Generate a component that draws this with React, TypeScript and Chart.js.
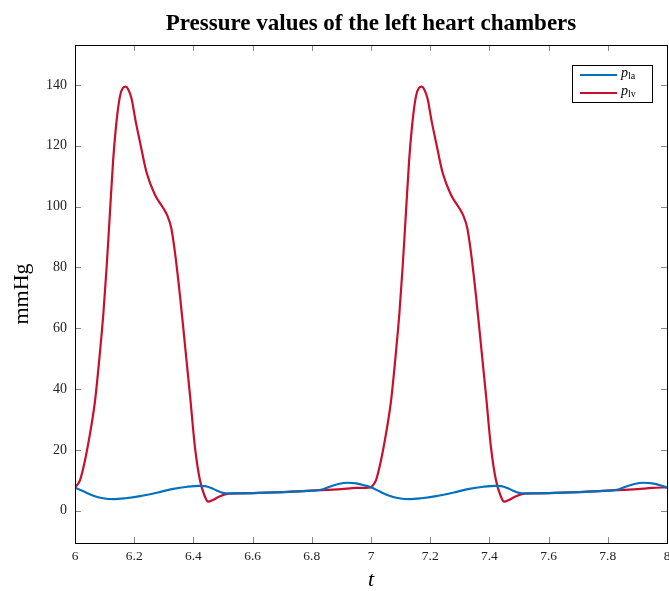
import React, { useEffect, useRef } from "react";
import { Chart, registerables } from "chart.js";
Chart.register(...registerables);

const titleText = "Pressure values of the left heart chambers";
const xTitle = "t";
const yTitle = "mmHg";
const xTicks = [6, 6.2, 6.4, 6.6, 6.8, 7, 7.2, 7.4, 7.6, 7.8, 8];
const yTicks = [0, 20, 40, 60, 80, 100, 120, 140];

// p_la (left atrium)
const plaT = [
  6.0, 6.03, 6.06, 6.09, 6.13, 6.17, 6.22, 6.28, 6.332, 6.38, 6.42, 6.44, 6.46, 6.48, 6.5, 6.52,
  6.6, 6.7, 6.8, 6.83, 6.86, 6.89, 6.92, 6.95, 6.98,
  7.0, 7.03, 7.06, 7.09, 7.13, 7.17, 7.22, 7.28, 7.332, 7.38, 7.42, 7.44, 7.46, 7.48, 7.5, 7.52,
  7.6, 7.7, 7.8, 7.83, 7.86, 7.89, 7.92, 7.95, 7.98, 8.0,
];
const plaV = [
  7.6, 6.3, 5.0, 4.2, 3.8, 4.1, 4.8, 6.0, 7.2, 7.9, 8.2, 8.1, 7.5, 6.6, 5.9, 5.7,
  5.8, 6.1, 6.6, 6.9, 7.9, 8.8, 9.2, 9.0, 8.3,
  7.7, 6.3, 5.0, 4.2, 3.8, 4.1, 4.8, 6.0, 7.2, 7.9, 8.2, 8.1, 7.5, 6.6, 5.9, 5.7,
  5.8, 6.1, 6.6, 6.9, 7.9, 8.8, 9.2, 9.0, 8.3, 7.6,
];

// p_lv (left ventricle)
const plvT = [
  6.0, 6.005, 6.017, 6.034, 6.051, 6.068, 6.084, 6.096, 6.107, 6.118, 6.129, 6.141, 6.152, 6.162,
  6.171, 6.18, 6.191, 6.205, 6.22, 6.242, 6.27, 6.298, 6.312, 6.325, 6.338, 6.355, 6.372, 6.389,
  6.405, 6.422, 6.439, 6.45, 6.465, 6.49, 6.52, 6.6, 6.7, 6.8, 6.9, 6.95,
  7.0, 7.005, 7.017, 7.034, 7.051, 7.068, 7.084, 7.096, 7.107, 7.118, 7.129, 7.141, 7.152, 7.162,
  7.171, 7.18, 7.191, 7.205, 7.22, 7.242, 7.27, 7.298, 7.312, 7.325, 7.338, 7.355, 7.372, 7.389,
  7.405, 7.422, 7.439, 7.45, 7.465, 7.49, 7.52, 7.6, 7.7, 7.8, 7.9, 7.95, 8.0,
];
const plvV = [
  7.6, 8.2, 10.1, 16.7, 25.5, 36.4, 51.8, 65, 80.3, 97.9, 115.4, 128.6, 136.3, 139.0,
  139.4, 138.5, 135.5, 128, 121, 111.1, 103.9, 99.5, 97, 93, 84.7, 70.4, 54, 37.5,
  21.1, 10.1, 4.6, 3.0, 3.5, 4.8, 5.6, 5.8, 6.1, 6.6, 7.1, 7.5,
  7.7, 8.2, 10.1, 16.7, 25.5, 36.4, 51.8, 65, 80.3, 97.9, 115.4, 128.6, 136.3, 139.0,
  139.4, 138.5, 135.5, 128, 121, 111.1, 103.9, 99.5, 97, 93, 84.7, 70.4, 54, 37.5,
  21.1, 10.1, 4.6, 3.0, 3.5, 4.8, 5.6, 5.8, 6.1, 6.6, 7.1, 7.5, 7.7,
];

const BLUE = "#0072BD";
const RED = "#C8102E";
const SERIF = "'Liberation Serif', 'DejaVu Serif', serif";

const framePlugin = {
  id: "framePlugin",
  afterDatasetsDraw(chart: any) {
    const { ctx, chartArea: a, scales } = chart;
    ctx.save();
    // inward ticks
    ctx.strokeStyle = "#8a8a8a";
    ctx.lineWidth = 1;
    const tl = 6;
    for (const v of xTicks) {
      const x = Math.round(scales.x.getPixelForValue(v)) + 0.5;
      ctx.beginPath();
      ctx.moveTo(x, a.bottom);
      ctx.lineTo(x, a.bottom - tl);
      ctx.moveTo(x, a.top);
      ctx.lineTo(x, a.top + tl);
      ctx.stroke();
    }
    for (const v of yTicks) {
      const y = Math.round(scales.y.getPixelForValue(v)) + 0.5;
      ctx.beginPath();
      ctx.moveTo(a.left, y);
      ctx.lineTo(a.left + tl, y);
      ctx.moveTo(a.right, y);
      ctx.lineTo(a.right - tl, y);
      ctx.stroke();
    }
    // frame
    ctx.strokeStyle = "#000";
    ctx.lineWidth = 1;
    ctx.strokeRect(Math.round(a.left) + 0.5, Math.round(a.top) + 0.5, Math.round(a.right - a.left), Math.round(a.bottom - a.top));

    // title
    ctx.fillStyle = "#000";
    ctx.font = `bold 23px ${SERIF}`;
    ctx.textAlign = "center";
    ctx.textBaseline = "alphabetic";
    ctx.fillText(titleText, (a.left + a.right) / 2, 30);

    // legend
    const bx = 572, by = 65, bw = 80, bh = 37;
    ctx.fillStyle = "#fff";
    ctx.fillRect(bx, by, bw, bh);
    ctx.strokeStyle = "#000";
    ctx.strokeRect(bx + 0.5, by + 0.5, bw, bh);
    const items = [
      { c: BLUE, sub: "la", y: 75 },
      { c: RED, sub: "lv", y: 93 },
    ];
    for (const it of items) {
      ctx.strokeStyle = it.c;
      ctx.lineWidth = 2;
      ctx.beginPath();
      ctx.moveTo(580, it.y);
      ctx.lineTo(617, it.y);
      ctx.stroke();
      ctx.fillStyle = "#000";
      ctx.textAlign = "left";
      ctx.textBaseline = "alphabetic";
      ctx.font = `italic 14px ${SERIF}`;
      ctx.fillText("p", 621, it.y + 2);
      ctx.font = `10px ${SERIF}`;
      ctx.fillText(it.sub, 628, it.y + 4);
    }
    ctx.restore();
  },
};

export default function App() {
  const ref = useRef<HTMLCanvasElement>(null);
  useEffect(() => {
    const pla = plaT.map((t, i) => ({ x: t, y: plaV[i] }));
    const plv = plvT.map((t, i) => ({ x: t, y: plvV[i] }));
    const chart = new Chart(ref.current!, {
      type: "line",
      data: {
        datasets: [
          { label: "p_la", data: pla, borderColor: BLUE, borderWidth: 2.2, pointRadius: 0, cubicInterpolationMode: "monotone", fill: false },
          { label: "p_lv", data: plv, borderColor: RED, borderWidth: 2.2, pointRadius: 0, cubicInterpolationMode: "monotone", fill: false },
        ],
      },
      options: {
        animation: false,
        responsive: false,
        maintainAspectRatio: false,
        layout: { padding: { top: 45, right: 2, left: 0, bottom: 0 } },
        plugins: { legend: { display: false }, title: { display: false }, tooltip: { enabled: false } },
        scales: {
          x: {
            type: "linear",
            min: 6,
            max: 8,
            grid: { display: false, drawTicks: false },
            border: { display: false },
            ticks: {
              autoSkip: false,
              maxRotation: 0,
              padding: 5,
              color: "#222",
              font: { family: SERIF, size: 13.5 },
              callback: (v: any) => String(Math.round(Number(v) * 10) / 10),
            },
            afterBuildTicks: (s: any) => {
              s.ticks = xTicks.map((v) => ({ value: v }));
            },
            afterFit: (s: any) => {
              s.height = 48;
              s.paddingLeft = 0;
              s.paddingRight = 0;
            },
            title: {
              display: true,
              text: xTitle,
              color: "#000",
              font: { family: SERIF, size: 22, style: "italic", lineHeight: 1 },
              padding: { top: 0, bottom: 0 },
            },
          },
          y: {
            type: "linear",
            min: -10.6,
            max: 153.1,
            grid: { display: false, drawTicks: false },
            border: { display: false },
            ticks: {
              padding: 8,
              color: "#222",
              font: { family: SERIF, size: 14 },
            },
            afterBuildTicks: (s: any) => {
              s.ticks = yTicks.map((v) => ({ value: v }));
            },
            afterFit: (s: any) => {
              s.width = 75;
              s.paddingTop = 0;
              s.paddingBottom = 0;
            },
            title: {
              display: true,
              text: yTitle,
              color: "#000",
              font: { family: SERIF, size: 22, lineHeight: 1 },
              padding: { top: 11, bottom: 0 },
            },
          },
        },
      },
      plugins: [framePlugin],
    });
    return () => chart.destroy();
  }, []);
  return (
    <div style={{ position: "fixed", left: 0, top: 0, width: 669, height: 591, background: "#fff" }}>
      <canvas ref={ref} width={669} height={591} style={{ width: 669, height: 591 }} />
    </div>
  );
}
